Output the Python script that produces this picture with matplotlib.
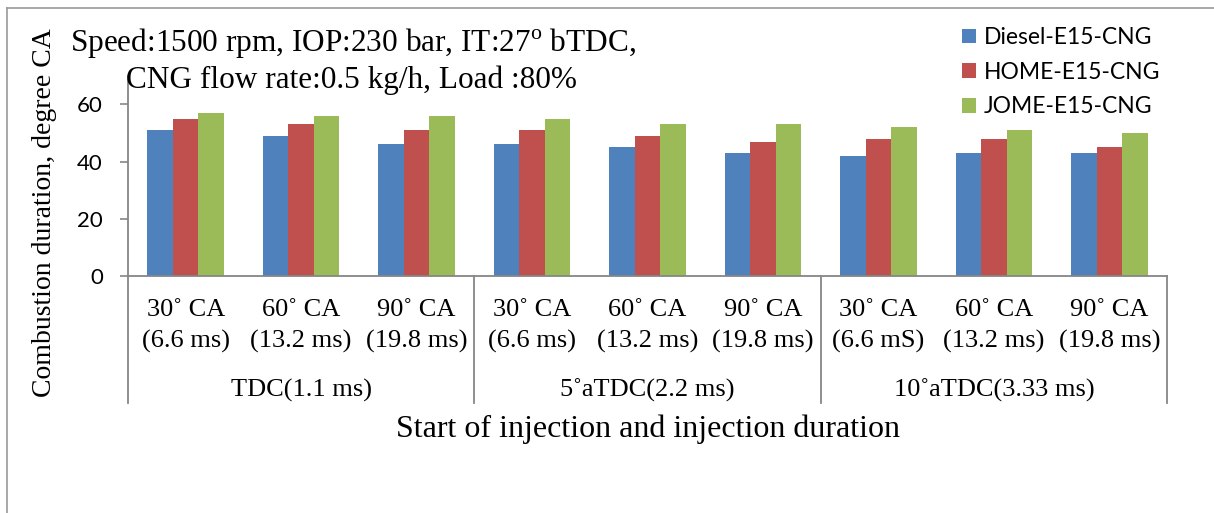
import matplotlib
matplotlib.use("Agg")
import matplotlib.pyplot as plt
import matplotlib.transforms as mtransforms
from matplotlib.lines import Line2D
import numpy as np

# ---------------- data ----------------
categories_line1 = ["30˚ CA", "60˚ CA", "90˚ CA"] * 3
categories_line2 = ["(6.6 ms)", "(13.2 ms)", "(19.8 ms)",
                    "(6.6 ms)", "(13.2 ms)", "(19.8 ms)",
                    "(6.6 mS)", "(13.2 ms)", "(19.8 ms)"]
groups = ["TDC(1.1 ms)", "5˚aTDC(2.2 ms)", "10˚aTDC(3.33 ms)"]
series_names = ["Diesel-E15-CNG", "HOME-E15-CNG", "JOME-E15-CNG"]
diesel = [51, 49, 46, 46, 45, 43, 42, 43, 43]
home = [55, 53, 51, 51, 49, 47, 48, 48, 45]
jome = [57, 56, 56, 55, 53, 53, 52, 51, 50]
yticks = [0, 20, 40, 60]

colors = ["#4F81BD", "#C0504D", "#9BBB59"]
axis_gray = "#868686"

plt.rcParams['mathtext.fontset'] = 'custom'
plt.rcParams['mathtext.rm'] = 'Liberation Serif'
serif = ["Liberation Serif", "DejaVu Serif"]
sans = ["Lato", "DejaVu Sans"]

W, H = 1214, 513
fig = plt.figure(figsize=(W / 100, H / 100), dpi=100)

# axes in pixel coordinates
x0, x1 = 128, 1167
y0, ytop = 276, 75.7
ax = fig.add_axes([x0 / W, 1 - y0 / H, (x1 - x0) / W, (y0 - ytop) / H])

n = len(diesel)
x = np.arange(n) + 0.5
bw = 0.221
for i, (vals, c, name) in enumerate(zip([diesel, home, jome], colors, series_names)):
    ax.bar(x + (i - 1) * bw, vals, width=bw, color=c, edgecolor="none", label=name, zorder=2)

ax.set_xlim(0, n)
ax.set_ylim(0, 70)
ax.set_yticks(yticks)
ax.set_yticklabels([str(v) for v in yticks], fontfamily=sans, fontsize=16)
ax.tick_params(axis='y', length=6, width=1.2, color=axis_gray, pad=12, direction='out')
ax.set_xticks([])
for s in ["top", "right"]:
    ax.spines[s].set_visible(False)
for s in ["left", "bottom"]:
    ax.spines[s].set_color(axis_gray)
    ax.spines[s].set_linewidth(1.3)
ax.spines["bottom"].set_zorder(3)

trans = mtransforms.blended_transform_factory(ax.transData, ax.transAxes)
ah = y0 - ytop
y_line_end = (y0 - 403) / ah
for bx in [0, 3, 6, 9]:
    ax.add_line(Line2D([bx, bx], [0, y_line_end], transform=trans, color=axis_gray,
                       lw=1.3, clip_on=False))

y_l1 = (y0 - 310) / ah
y_l2 = (y0 - 341) / ah
y_g = (y0 - 390) / ah
for xi, t1, t2 in zip(x, categories_line1, categories_line2):
    ax.text(xi, y_l1, t1, transform=trans, ha='center', va='center', fontfamily=serif, fontsize=19)
    ax.text(xi, y_l2, t2, transform=trans, ha='center', va='center', fontfamily=serif, fontsize=19)
for gi, g in enumerate(groups):
    ax.text(gi * 3 + 1.5, y_g, g, transform=trans, ha='center', va='center', fontfamily=serif, fontsize=19)

# axis titles
fig.text(648 / W, 1 - 429 / H, "Start of injection and injection duration", ha='center', va='center',
         fontfamily=serif, fontsize=23)
fig.text(45 / W, 1 - 213 / H, "Combustion duration, degree CA", rotation=90, ha='center', va='center',
         fontfamily=serif, fontsize=20)

# chart title
fig.text(353 / W, 1 - 43 / H, "Speed:1500 rpm, IOP:230 bar, IT:27$^{\\mathrm{o}}$ bTDC,", ha='center', va='center',
         fontfamily=serif, fontsize=22.5)
fig.text(352 / W, 1 - 80 / H, "CNG flow rate:0.5 kg/h, Load :80%", ha='center', va='center',
         fontfamily=serif, fontsize=22.5)

# legend
leg = fig.legend(loc='upper left', bbox_to_anchor=(962 / W, 1 - 27 / H), bbox_transform=fig.transFigure,
                 frameon=False, prop={'family': sans, 'size': 16.5}, handlelength=0.6, handleheight=0.6,
                 handletextpad=0.35, labelspacing=0.6, borderpad=0, borderaxespad=0)

# outer frame (left and top edges visible)
fig.add_artist(Line2D([7 / W, 7 / W], [0, 1 - 8 / H], transform=fig.transFigure, color="#9a9a9a", lw=1.2))
fig.add_artist(Line2D([7 / W, 1], [1 - 8 / H, 1 - 8 / H], transform=fig.transFigure, color="#9a9a9a", lw=1.2))

fig.savefig("out.png", dpi=100)
